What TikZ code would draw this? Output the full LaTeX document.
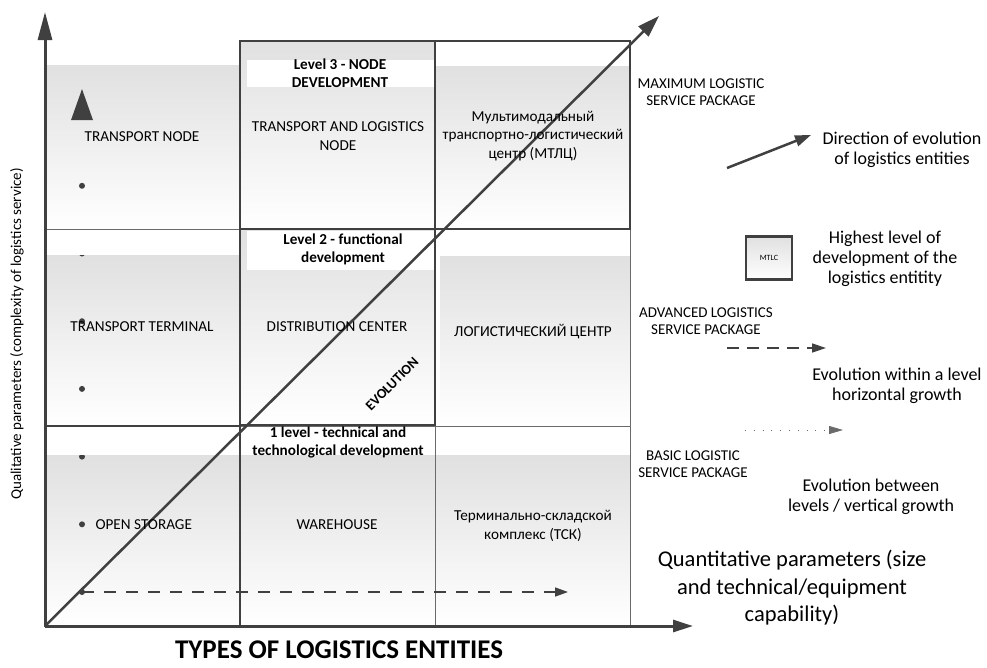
\documentclass[tikz,border=0pt]{standalone}
\usepackage{fontspec}
\setmainfont{Carlito}
\usepackage{tikz}
\usetikzlibrary{arrows.meta,positioning,calc}
\definecolor{linegray}{HTML}{404040}
\definecolor{thingray}{HTML}{6A6A6A}
\tikzstyle{cell} = [top color=black!12, bottom color=white, draw=none]
\tikzstyle{band} = [fill=white, draw=none]
\tikzstyle{frame} = [draw=linegray, line width=2.5pt]
\tikzstyle{sep} = [draw=thingray, line width=1pt]
\tikzstyle{axis} = [draw=linegray, line width=3pt]
\tikzstyle{entity} = [align=center, font=\fontsize{15.2}{18.5}\selectfont]
\tikzstyle{levelhead} = [align=center, font=\fontsize{15.2}{18}\selectfont\bfseries]
\tikzstyle{package} = [align=center, font=\fontsize{15}{17.5}\selectfont]
\tikzstyle{legendtext} = [align=center, font=\fontsize{18}{20}\selectfont]

\begin{document}
\begin{tikzpicture}[x=1pt, y=-1pt]
    \useasboundingbox (0,0) rectangle (987,667);

    % shaded cells, level 3 / 2 / 1
    \shade[cell] (45,65) rectangle (240,229);
    \shade[cell] (240,41) rectangle (435,229);
    \shade[cell] (435,66) rectangle (630,229);
    \shade[cell] (45,255) rectangle (240,425);
    \shade[cell] (240,229) rectangle (435,425);
    \shade[cell] (440,256) rectangle (630,425);
    \shade[cell] (45,455) rectangle (240,626);
    \shade[cell] (240,455) rectangle (435,626);
    \shade[cell] (435,455) rectangle (630,626);

    % vertical growth
    \coordinate (vstart) at (82,592);
    \coordinate (vtip) at (82,88);
    \draw[draw=linegray, line width=6pt, line cap=round, dash pattern=on 0pt off 67.7pt,
          -{Triangle[width=20pt,length=32pt]}] (vstart) -- (vtip);

    % white heading bands
    \fill[band] (247,60) rectangle (435,87);
    \fill[band] (45,231) rectangle (240,255);
    \fill[band] (247,231) rectangle (440,270);
    \fill[band] (440,231) rectangle (630,256);
    \fill[band] (45,428) rectangle (630,455);

    % separators
    \draw[sep] (45,229) -- (240,229);
    \draw[sep] (240,426) -- (630,426);
    \draw[sep] (435,426) -- (435,626);
    \draw[sep] (630,229) -- (630,626);

    % framed cells
    \draw[frame] (240,41) rectangle (435,229);
    \draw[frame] (435,41) rectangle (630,229);
    \draw[frame] (240,229) rectangle (435,425);
    \draw[frame] (45,426) rectangle (240,626);

    % axes
    \coordinate (origin) at (45,626);
    \coordinate (ytip) at (45,12);
    \coordinate (xtip) at (693,626);
    \coordinate (dtip) at (659,16);
    \draw[axis, -{Triangle[width=14pt,length=28pt]}] (origin) -- (ytip);
    \draw[axis, -{Triangle[width=12pt,length=20pt]}] (origin) -- (xtip);
    \draw[draw=linegray, line width=2.5pt, -{Triangle[width=14pt,length=22pt]}] (origin) -- (dtip);

    % horizontal growth
    \coordinate (hstart) at (82,592);
    \coordinate (htip) at (568,592);
    \draw[draw=linegray, line width=1.5pt, dash pattern=on 12pt off 10pt,
          -{Triangle[width=9pt,length=13pt]}] (hstart) -- (htip);

    % level headings
    \node[levelhead] (lev3) at (340,73) {Level 3 - NODE\\DEVELOPMENT};
    \node[levelhead] (lev2) at (343,249) {Level 2 - functional\\development};
    \node[levelhead] (lev1) at (338,442) {1 level - technical and\\technological development};

    % entities
    \node[entity] (tnode) at (142,137) {TRANSPORT NODE};
    \node[entity] (tlnode) at (338,136) {TRANSPORT AND LOGISTICS\\NODE};
    \node[entity] (mtlc) at (533,136) {Мультимодальный\\транспортно-логистический\\центр (МТЛЦ)};
    \node[entity] (tterm) at (142,327) {TRANSPORT TERMINAL};
    \node[entity] (dcenter) at (337,327) {DISTRIBUTION CENTER};
    \node[entity] (lcenter) at (533,332) {ЛОГИСТИЧЕСКИЙ ЦЕНТР};
    \node[entity, anchor=west] (ostore) at (92,525) {OPEN STORAGE};
    \node[entity] (whouse) at (337,525) {WAREHOUSE};
    \node[entity] (tsk) at (533,526) {Терминально-складской\\комплекс (ТСК)};
    \node[rotate=45, inner sep=0pt, font=\fontsize{14}{16}\selectfont\bfseries] (evol) at (392,384) {EVOLUTION};

    % service packages
    \node[package] (maxpack) at (701,92) {MAXIMUM LOGISTIC\\SERVICE PACKAGE};
    \node[package] (advpack) at (706,321) {ADVANCED LOGISTICS\\SERVICE PACKAGE};
    \node[package] (baspack) at (693,464) {BASIC LOGISTIC\\SERVICE PACKAGE};

    % legend
    \coordinate (ldir1) at (727,168);
    \coordinate (ldir2) at (811,135);
    \draw[draw=linegray, line width=2.5pt, -{Triangle[width=11pt,length=16pt]}] (ldir1) -- (ldir2);
    \node[legendtext] (ldirtxt) at (902,150) {Direction of evolution\\of logistics entities};

    \node[cell, draw=linegray, line width=2.5pt, minimum width=46pt, minimum height=43pt,
          font=\fontsize{8}{9}\selectfont] (lbox) at (769,258) {MTLC};
    \node[legendtext] (lboxtxt) at (885,259) {Highest level of\\development of the\\logistics entitity};

    \coordinate (lh1) at (727,348);
    \coordinate (lh2) at (826,348);
    \draw[draw=linegray, line width=1.5pt, dash pattern=on 12pt off 8pt,
          -{Triangle[width=9pt,length=14pt]}] (lh1) -- (lh2);
    \node[legendtext] (lhtxt) at (897,386) {Evolution within a level\\horizontal growth};

    \coordinate (lv1) at (745,430);
    \coordinate (lv2) at (843,430);
    \draw[draw=thingray, line width=0.8pt, dash pattern=on 0.8pt off 8pt,
          -{Triangle[width=8pt,length=14pt]}] (lv1) -- (lv2);
    \node[legendtext] (lvtxt) at (871,497) {Evolution between\\levels / vertical growth};

    % axis titles
    \node[align=center, font=\fontsize{22.5}{27.5}\selectfont] (xtitle) at (792,588)
        {Quantitative parameters (size\\and technical/equipment\\capability)};
    \node[font=\fontsize{27}{30}\selectfont\bfseries] (types) at (339,650) {TYPES OF LOGISTICS ENTITIES};
    \node[rotate=90, font=\fontsize{15}{17}\selectfont] (ytitle) at (17,334)
        {Qualitative parameters (complexity of logistics service)};
\end{tikzpicture}
\end{document}
